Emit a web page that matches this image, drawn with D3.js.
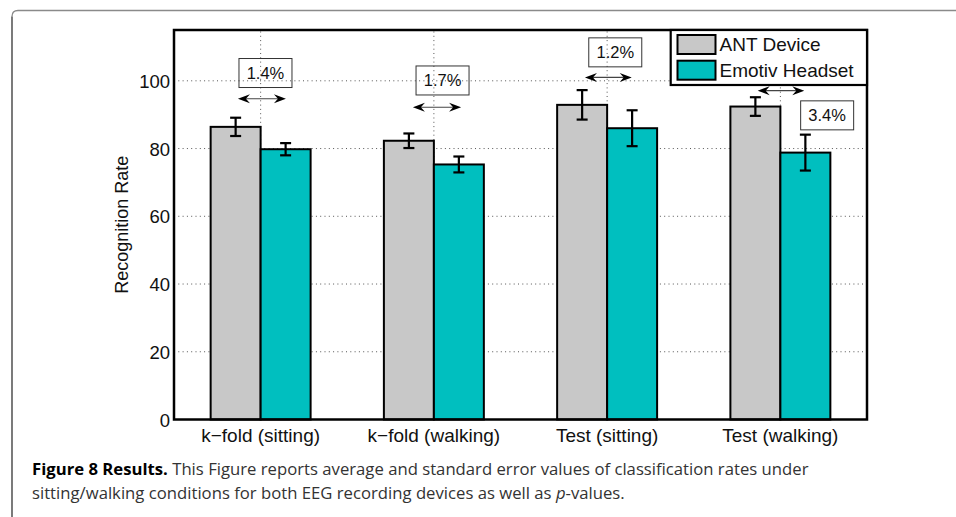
<!DOCTYPE html>
<html><head><meta charset="utf-8">
<script src="https://cdn.jsdelivr.net/npm/d3@7"></script>
<style>body{margin:0;background:#fff} svg{display:block}</style>
</head><body>
<svg id="chart" width="956" height="517"></svg>
<script>
// Recognition rates (mean and standard error) per condition and device
const categories = ["k\u2212fold (sitting)", "k\u2212fold (walking)", "Test (sitting)", "Test (walking)"];
const seriesNames = ["ANT Device", "Emotiv Headset"];
const antMean = [86.4, 82.3, 92.9, 92.4];
const antErr = [2.7, 2.15, 4.35, 2.75];
const emotivMean = [79.8, 75.3, 86.0, 78.8];
const emotivErr = [1.8, 2.35, 5.3, 5.3];
const yTicks = [0, 20, 40, 60, 80, 100];

// p-value annotations (x in condition index units, y in rate units)
const pLabels = ["1.4%", "1.7%", "1.2%", "3.4%"];
const pLabelX = [1.028, 2.050, 3.047, 4.270];
const pLabelY = [102.3, 100.1, 108.4, 89.8];
const arrowX1 = [0.869, 1.879, 2.872, 3.869];
const arrowX2 = [1.146, 2.157, 3.142, 4.138];
const arrowY = [94.7, 92.2, 101.0, 97.1];

const colors = ["#c8c8c8", "#00bfbf"];
const svg = d3.select("#chart");
const FONT = "'Liberation Sans', Arial, Helvetica, sans-serif";

// outer figure frame with rounded top-left corner
svg.append("path")
  .attr("d", "M956,10.5 H18 Q12,10.5 12,16.5")
  .attr("fill", "none").attr("stroke", "#8a8a8a").attr("stroke-width", 1.3);
svg.append("path")
  .attr("d", "M12,16.5 V517")
  .attr("fill", "none").attr("stroke", "#333").attr("stroke-width", 1.3);

const L = 174, R = 867, T = 30, B = 419.5;

const x = d3.scaleBand().domain(categories).range([L, R])
  .paddingInner(0.423).paddingOuter(0.2115);
const xs = d3.scaleBand().domain(seriesNames).range([0, x.bandwidth()]);
const xl = d3.scaleLinear().domain([0.5, categories.length + 0.5]).range([L, R]);
const y = d3.scaleLinear().domain([0, 115]).range([B, T]);

const g = svg.append("g");

// dotted grid
g.append("g").selectAll("line").data(yTicks.filter(d => d > 0)).join("line")
  .attr("x1", L).attr("x2", R).attr("y1", d => y(d)).attr("y2", d => y(d))
  .attr("stroke", "#555").attr("stroke-width", 1).attr("stroke-dasharray", "1,3.3");
g.append("g").selectAll("line").data(categories).join("line")
  .attr("x1", d => x(d) + x.bandwidth() / 2).attr("x2", d => x(d) + x.bandwidth() / 2)
  .attr("y1", B).attr("y2", T)
  .attr("stroke", "#555").attr("stroke-width", 1).attr("stroke-dasharray", "1,3.3");

// bars
const rows = categories.map((c, i) => ({
  cat: c,
  vals: [
    {s: seriesNames[0], m: antMean[i], e: antErr[i], c: colors[0]},
    {s: seriesNames[1], m: emotivMean[i], e: emotivErr[i], c: colors[1]}
  ]
}));
const grp = g.append("g").selectAll("g").data(rows).join("g")
  .attr("transform", d => `translate(${x(d.cat)},0)`);
grp.selectAll("rect").data(d => d.vals).join("rect")
  .attr("x", d => xs(d.s)).attr("width", xs.bandwidth())
  .attr("y", d => y(d.m)).attr("height", d => y(0) - y(d.m))
  .attr("fill", d => d.c).attr("stroke", "#000").attr("stroke-width", 2);

// error bars
const eb = grp.selectAll("g.err").data(d => d.vals).join("g").attr("class", "err")
  .attr("stroke", "#000").attr("stroke-width", 2.2);
const cx = d => xs(d.s) + xs.bandwidth() / 2;
eb.append("line").attr("x1", cx).attr("x2", cx)
  .attr("y1", d => y(d.m + d.e)).attr("y2", d => y(d.m - d.e));
eb.append("line").attr("x1", d => cx(d) - 5.5).attr("x2", d => cx(d) + 5.5)
  .attr("y1", d => y(d.m + d.e)).attr("y2", d => y(d.m + d.e));
eb.append("line").attr("x1", d => cx(d) - 5.5).attr("x2", d => cx(d) + 5.5)
  .attr("y1", d => y(d.m - d.e)).attr("y2", d => y(d.m - d.e));

// axes box
g.append("rect").attr("x", L).attr("y", T).attr("width", R - L).attr("height", B - T)
  .attr("fill", "none").attr("stroke", "#000").attr("stroke-width", 2.5);

// y tick labels
const yAxis = d3.axisLeft(y).tickValues(yTicks).tickSize(0).tickPadding(4);
const ya = svg.append("g").attr("transform", `translate(${L},0)`).call(yAxis);
ya.select(".domain").remove();
ya.selectAll("text").attr("font-family", FONT).attr("font-size", 18.5).attr("fill", "#111").attr("dy", "0.36em");

// x tick labels
const xAxis = d3.axisBottom(x).tickSize(0).tickPadding(0);
const xa = svg.append("g").attr("transform", `translate(0,${B})`).call(xAxis);
xa.select(".domain").remove();
xa.selectAll("text").attr("font-family", FONT).attr("font-size", 19).attr("fill", "#111")
  .attr("dy", null).attr("y", 22.5);

// y axis title
svg.append("text").attr("transform", `translate(127.5,${(T + B) / 2}) rotate(-90)`)
  .attr("text-anchor", "middle").attr("font-family", FONT).attr("font-size", 18)
  .attr("fill", "#111").text("Recognition Rate");

// p-value arrows and labels
const ann = pLabels.map((t, i) => ({t, lx: pLabelX[i], ly: pLabelY[i], x1: arrowX1[i], x2: arrowX2[i], ay: arrowY[i]}));
const ag = svg.append("g");
ag.selectAll("line").data(ann).join("line")
  .attr("x1", d => xl(d.x1) + 4).attr("x2", d => xl(d.x2) - 4)
  .attr("y1", d => y(d.ay)).attr("y2", d => y(d.ay))
  .attr("stroke", "#444").attr("stroke-width", 1.1);
const head = (tx, ty, dir) => {
  const b = tx + dir * 12, n = tx + dir * 8;
  return `M${tx},${ty} L${b},${ty - 4.5} L${n},${ty} L${b},${ty + 4.5} Z`;
};
ag.selectAll("path").data(ann).join("path")
  .attr("d", d => head(xl(d.x1), y(d.ay), 1) + head(xl(d.x2), y(d.ay), -1))
  .attr("fill", "#000");
ag.selectAll("rect").data(ann).join("rect")
  .attr("x", d => xl(d.lx) - 26.5).attr("y", d => y(d.ly) - 14.5)
  .attr("width", 53).attr("height", 29)
  .attr("fill", "none").attr("stroke", "#333").attr("stroke-width", 1);
ag.selectAll("text").data(ann).join("text")
  .attr("x", d => xl(d.lx)).attr("y", d => y(d.ly)).attr("dy", "0.36em")
  .attr("text-anchor", "middle").attr("font-family", FONT).attr("font-size", 16.5)
  .attr("fill", "#111").text(d => d.t);

// legend
const lg = svg.append("g");
lg.append("rect").attr("x", 670.7).attr("y", T).attr("width", R - 670.7).attr("height", 55)
  .attr("fill", "#fff").attr("stroke", "#000").attr("stroke-width", 2.2);
const li = lg.selectAll("g.item").data(seriesNames).join("g").attr("class", "item")
  .attr("transform", (d, i) => `translate(677.5,${35 + i * 25.7})`);
li.append("rect").attr("width", 38).attr("height", 19)
  .attr("fill", (d, i) => colors[i]).attr("stroke", "#000").attr("stroke-width", 2);
li.append("text").attr("x", 42).attr("y", 9.5).attr("dy", "0.36em")
  .attr("font-family", FONT).attr("font-size", 19).attr("fill", "#111").text(d => d);

// caption: two lines, horizontally condensed by a shared factor
const CAP = "'Open Sans', 'Noto Sans', sans-serif";
const cap = svg.append("g");
const c1 = cap.append("text").attr("x", 0).attr("y", 475).attr("font-family", CAP).attr("font-size", 16);
c1.append("tspan").attr("font-weight", "bold").attr("fill", "#000").text("Figure 8 Results.");
c1.append("tspan").attr("fill", "#333").text(" This Figure reports average and standard error values of classification rates under");
const c2 = cap.append("text").attr("x", 0).attr("y", 499).attr("font-family", CAP)
  .attr("font-size", 16).attr("fill", "#333");
c2.append("tspan").text("sitting/walking conditions for both EEG recording devices as well as ");
c2.append("tspan").attr("font-style", "italic").text("p");
c2.append("tspan").text("-values.");
const sx = 777 / c1.node().getComputedTextLength();
cap.attr("transform", `translate(32,0) scale(${sx},1)`);
</script>
</body></html>
